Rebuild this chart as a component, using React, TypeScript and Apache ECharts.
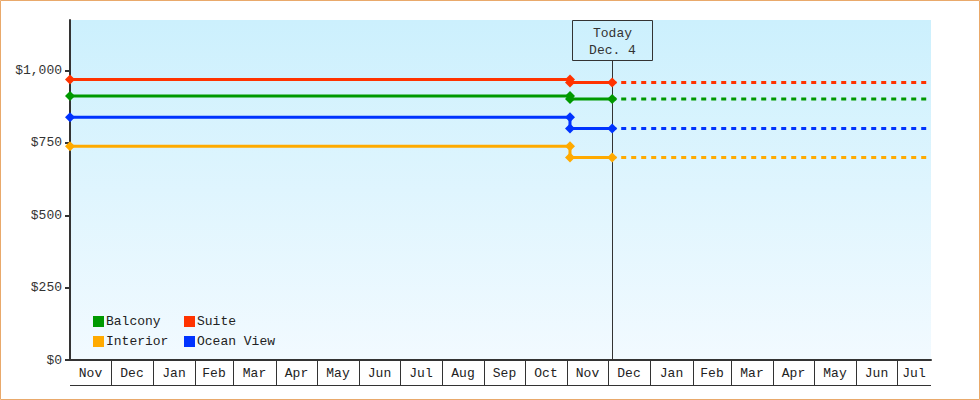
import React, { useEffect, useRef } from 'react';
import * as echarts from 'echarts';

// ---- data ----
const roomTypes = ['Suite', 'Balcony', 'Ocean View', 'Interior'];
const roomColors = ['#ff3300', '#009900', '#0033ff', '#ffaa00'];
const oldPrices = [969, 912, 839, 739];
const newPrices = [959, 902, 800, 700];
const startDate = '2021-11-01';
const changeDate = '2022-11-03';
const todayDate = '2022-12-04';
const endDate = '2023-07-26';
const todayLabel = ['Today', 'Dec. 4'];
const monthStarts = [
  '2021-11-01', '2021-12-01', '2022-01-01', '2022-02-01', '2022-03-01', '2022-04-01',
  '2022-05-01', '2022-06-01', '2022-07-01', '2022-08-01', '2022-09-01', '2022-10-01',
  '2022-11-01', '2022-12-01', '2023-01-01', '2023-02-01', '2023-03-01', '2023-04-01',
  '2023-05-01', '2023-06-01', '2023-07-01',
];
const monthLabels = [
  'Nov', 'Dec', 'Jan', 'Feb', 'Mar', 'Apr', 'May', 'Jun', 'Jul', 'Aug', 'Sep', 'Oct',
  'Nov', 'Dec', 'Jan', 'Feb', 'Mar', 'Apr', 'May', 'Jun', 'Jul',
];
const yTicks = [0, 250, 500, 750, 1000];
const yMax = 1175;
const legendColumn1 = ['Balcony', 'Interior'];
const legendColumn2 = ['Suite', 'Ocean View'];

const FONT = 'Liberation Mono';

function ts(s: string): number {
  const [y, m, d] = s.split('-').map(Number);
  return new Date(y, m - 1, d).getTime();
}

export default function App() {
  const ref = useRef<HTMLDivElement>(null);

  useEffect(() => {
    if (!ref.current) return;
    const chart = echarts.init(ref.current, undefined, { renderer: 'svg' });

    const solidSeries = roomTypes.map((name, i) => ({
      name,
      type: 'line',
      z: 3,
      clip: false,
      data: [
        [ts(startDate), oldPrices[i]],
        [ts(changeDate), oldPrices[i]],
        [ts(changeDate), newPrices[i]],
        [ts(todayDate), newPrices[i]],
      ],
      symbol: 'diamond',
      symbolSize: 10,
      showAllSymbol: true,
      color: roomColors[i],
      itemStyle: { color: roomColors[i] },
      lineStyle: { color: roomColors[i], width: 3 },
      silent: true,
    }));

    const dashedSeries = roomTypes.map((name, i) => ({
      name,
      type: 'line',
      z: 2,
      clip: false,
      data: [
        [ts(todayDate), newPrices[i]],
        [ts(endDate), newPrices[i]],
      ],
      showSymbol: false,
      symbol: 'none',
      color: roomColors[i],
      lineStyle: { color: roomColors[i], width: 3, type: [5, 5], dashOffset: 1, cap: 'butt' },
      silent: true,
    }));

    const monthData = monthStarts.map((s, i) => [
      ts(s),
      0,
      i + 1 < monthStarts.length ? ts(monthStarts[i + 1]) : ts(endDate),
    ]);

    const monthSeries = {
      name: '__months',
      type: 'custom',
      z: 1,
      silent: true,
      clip: false,
      encode: { x: [0, 2], y: 1 },
      data: monthData,
      renderItem: (params: any, api: any) => {
        const i = params.dataIndex;
        const cs = params.coordSys;
        const right = cs.x + cs.width;
        const p0 = api.coord([api.value(0), 0]);
        const p1 = api.coord([api.value(2), 0]);
        const x0 = Math.round(p0[0]);
        const x1 = Math.min(Math.round(p1[0]), right);
        const y = Math.round(p0[1]);
        const children: any[] = [];
        if (i > 0) {
          children.push({
            type: 'line',
            shape: { x1: x0 + 0.5, y1: y, x2: x0 + 0.5, y2: y + 25 },
            style: { stroke: '#333', lineWidth: 1 },
          });
        }
        children.push({
          type: 'line',
          shape: { x1: x0, y1: y + 25.5, x2: x1, y2: y + 25.5 },
          style: { stroke: '#333', lineWidth: 1 },
        });
        children.push({
          type: 'text',
          x: (x0 + x1) / 2,
          y: y + 13.5,
          style: {
            text: monthLabels[i],
            textAlign: 'center',
            textVerticalAlign: 'middle',
            fontFamily: FONT,
            fontSize: 13,
            fill: '#222',
          },
        });
        return { type: 'group', children };
      },
    };

    const todaySeries = {
      name: '__today',
      type: 'custom',
      z: 1,
      silent: true,
      clip: false,
      encode: { x: 0, y: 1 },
      data: [[ts(todayDate), 0]],
      renderItem: (params: any, api: any) => {
        const cs = params.coordSys;
        const p = api.coord([api.value(0), 0]);
        const x = Math.round(p[0]) + 0.5;
        const top = cs.y;
        const bottom = Math.round(p[1]);
        return {
          type: 'group',
          children: [
            {
              type: 'line',
              shape: { x1: x, y1: top + 40, x2: x, y2: bottom },
              style: { stroke: '#333', lineWidth: 1 },
            },
            {
              type: 'rect',
              shape: { x: x - 40, y: top + 0.5, width: 80, height: 40 },
              style: { fill: 'rgba(0,0,0,0)', stroke: '#333', lineWidth: 1 },
            },
            {
              type: 'text',
              x: x,
              y: top + 13,
              style: {
                text: todayLabel[0],
                textAlign: 'center',
                textVerticalAlign: 'middle',
                fontFamily: FONT,
                fontSize: 13,
                fill: '#333',
              },
            },
            {
              type: 'text',
              x: x,
              y: top + 30,
              style: {
                text: todayLabel[1],
                textAlign: 'center',
                textVerticalAlign: 'middle',
                fontFamily: FONT,
                fontSize: 13,
                fill: '#333',
              },
            },
          ],
        };
      },
    };

    const legendCommon = {
      orient: 'vertical',
      top: 315,
      itemWidth: 11,
      itemHeight: 11,
      itemGap: 7,
      icon: 'rect',
      selectedMode: false,
      padding: 0,
      textStyle: { fontFamily: FONT, fontSize: 13, color: '#222', padding: [0, 0, 0, -3] },
    };

    chart.setOption({
      animation: false,
      backgroundColor: '#ffffff',
      textStyle: { fontFamily: FONT },
      grid: {
        left: 70,
        right: 49,
        top: 20,
        bottom: 40,
        show: true,
        borderWidth: 0,
        backgroundColor: new echarts.graphic.LinearGradient(0, 0, 0, 1, [
          { offset: 0, color: '#ccf0fd' },
          { offset: 1, color: '#f2faff' },
        ]),
      },
      legend: [
        { ...legendCommon, left: 93, data: legendColumn1 },
        { ...legendCommon, left: 184, data: legendColumn2 },
      ],
      xAxis: {
        type: 'time',
        min: ts(startDate),
        max: ts(endDate),
        axisLine: { show: true, lineStyle: { color: '#333', width: 2 } },
        axisTick: { show: false },
        axisLabel: { show: false },
        splitLine: { show: false },
      },
      yAxis: {
        type: 'value',
        min: 0,
        max: yMax,
        interval: 250,
        axisLine: { show: true, lineStyle: { color: '#333', width: 2 } },
        axisTick: { show: true, length: 5, lineStyle: { color: '#333', width: 2 }, customValues: yTicks },
        axisLabel: {
          margin: 8,
          customValues: yTicks,
          formatter: (v: number) => '$' + v.toLocaleString('en-US'),
          color: '#333',
          fontFamily: FONT,
          fontSize: 13,
        },
        splitLine: { show: false },
      },
      graphic: [
        {
          type: 'rect',
          silent: true,
          z: 100,
          shape: { x: 0.5, y: 0.5, width: 979, height: 399 },
          style: { fill: 'rgba(0,0,0,0)', stroke: '#e9a96b', lineWidth: 1 },
        },
      ],
      series: [todaySeries, monthSeries, ...dashedSeries, ...solidSeries],
    });

    return () => chart.dispose();
  }, []);

  return (
    <div
      ref={ref}
      style={{ position: 'fixed', left: 0, top: 0, width: 980, height: 400 }}
    />
  );
}
